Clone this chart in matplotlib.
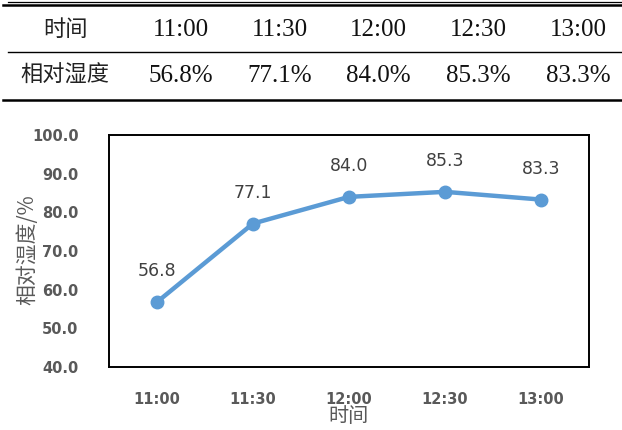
import matplotlib.pyplot as plt
from matplotlib.lines import Line2D

times = ['11:00', '11:30', '12:00', '12:30', '13:00']
humidity = [56.8, 77.1, 84.0, 85.3, 83.3]
row_heads = ['时间', '相对湿度']

W, H = 622, 430
fig = plt.figure(figsize=(W / 100, H / 100), dpi=100)

def fx(px):
    return px / W

def fy(py):
    return 1 - py / H

# table above the chart
col_x = [65, 181, 280, 378, 478, 578]
fig.add_artist(Line2D([fx(8), fx(622)], [fy(1.7), fy(1.7)], color='black', lw=0.9))
fig.add_artist(Line2D([fx(3), fx(622)], [fy(4.8), fy(4.8)], color='black', lw=1.8))
fig.add_artist(Line2D([fx(8), fx(622)], [fy(52), fy(52)], color='black', lw=1.0))
fig.add_artist(Line2D([fx(3), fx(622)], [fy(99.5), fy(99.5)], color='black', lw=1.8))

row1 = times
row2 = ['%.1f%%' % v for v in humidity]
for y, head, cells in [(29, row_heads[0], row1), (75, row_heads[1], row2)]:
    fig.text(fx(col_x[0]), fy(y), head, ha='center', va='center', fontsize=16,
             family='Noto Sans CJK SC', color='#222222')
    for x, t in zip(col_x[1:], cells):
        fig.text(fx(x), fy(y + 1), t, ha='center', va='center', fontsize=18,
                 family='Liberation Serif', color='#111111')

# line chart
ax = fig.add_axes([fx(109), fy(367), fx(589) - fx(109), (367 - 135) / H])
xs = range(len(times))
ax.plot(xs, humidity, color='#5B9BD5', lw=3.2, marker='o', ms=9,
        solid_capstyle='round')
for x, v in zip(xs, humidity):
    ax.annotate('%.1f' % v, (x, v), xytext=(0, 22), textcoords='offset points',
                ha='center', va='center', fontsize=12.5, color='#404040',
                family='DejaVu Sans')

ax.set_xlim(-0.5, 4.5)
ax.set_ylim(40, 100)
ax.set_yticks(range(40, 101, 10))
ax.set_yticklabels(['%.1f' % v for v in range(40, 101, 10)])
ax.set_xticks(list(xs))
ax.set_xticklabels(times)
ax.tick_params(length=0, labelsize=10.5, labelcolor='#595959')
ax.tick_params(axis='y', pad=22)
ax.tick_params(axis='x', pad=18)
for lab in ax.get_xticklabels() + ax.get_yticklabels():
    lab.set_fontweight('bold')
for s in ax.spines.values():
    s.set_color('black')
    s.set_linewidth(1.4)

fig.text(fx(349), fy(416), '时间', ha='center', va='center', fontsize=14.5,
         family='Noto Sans CJK SC', color='#595959')
fig.text(fx(27), fy(250), '相对湿度/%', ha='center', va='center', fontsize=15,
         rotation=90, family=['Noto Sans CJK SC', 'DejaVu Sans'], color='#595959')

fig.savefig('out.png', dpi=100)
